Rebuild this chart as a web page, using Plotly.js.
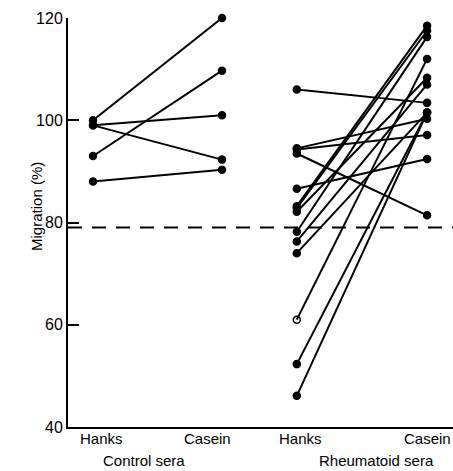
<!DOCTYPE html>
<html>
<head>
<meta charset="utf-8">
<script src="https://cdn.plot.ly/plotly-3.0.1.min.js"></script>
<style>html,body{margin:0;padding:0;background:#fff;}#chart{width:453px;height:471px;}</style>
</head>
<body>
<div id="chart"></div>
<script>
// ---- data ----
const yTickVals = [40, 60, 80, 100, 120];
const cutoff = 79;
const controlHanks  = [100, 99, 99, 93, 88];
const controlCasein = [120, 101, 92.3, 109.7, 90.3];
const rheumHanks  = [106, 94.5, 94.3, 93.5, 86.6, 83.2, 82.8, 82.1, 78.2, 76.3, 74, 61, 52.3, 46.1];
const rheumCasein = [103.4, 100.3, 97.1, 81.4, 92.4, 118.5, 117.5, 108.3, 116.3, 107, 101.5, 112, 101.5, 101.5];
const conditionLabels = ["Hanks", "Casein", "Hanks", "Casein"];
const groupLabels = ["Control sera", "Rheumatoid sera"];

// ---- layout helpers ----
const xCtlH = 0, xCtlC = 1, xRhH = 1.58, xRhC = 2.59;
const xRange = [-0.194, 2.791];

const traces = [];
function addPairs(h, c, x0, x1, openIdx) {
  for (let i = 0; i < h.length; i++) {
    traces.push({
      type: 'scatter', mode: 'lines+markers',
      x: [x0, x1], y: [h[i], c[i]],
      line: {color: '#000', width: 2},
      marker: {color: '#000', size: 7,
        symbol: (i === openIdx) ? ['circle-open', 'circle'] : 'circle',
        line: {color: '#000', width: 1.5}},
      cliponaxis: false, showlegend: false, hoverinfo: 'skip'
    });
  }
}
addPairs(controlHanks, controlCasein, xCtlH, xCtlC, -1);
addPairs(rheumHanks, rheumCasein, xRhH, xRhC, 11);

const L = 68, W = 453, plotW = W - L;
function px2paper(p) { return (p - L) / plotW; }
const labelCenters = [101, 207, 300, 427];
const groupCenters = [144, 376];
const font = {family: 'Liberation Sans, Arial, sans-serif', color: '#000'};

const annotations = [];
conditionLabels.forEach((t, i) => annotations.push({
  text: t, xref: 'paper', yref: 'paper', x: px2paper(labelCenters[i]), y: 0,
  xanchor: 'center', yanchor: 'middle', yshift: -11, showarrow: false,
  font: Object.assign({size: 15}, font)
}));
groupLabels.forEach((t, i) => annotations.push({
  text: t, xref: 'paper', yref: 'paper', x: px2paper(groupCenters[i]), y: 0,
  xanchor: 'center', yanchor: 'middle', yshift: -33, showarrow: false,
  font: Object.assign({size: 15}, font)
}));
annotations.push({
  text: 'Migration (%)', xref: 'paper', yref: 'paper', x: 0, y: 0.538,
  xanchor: 'center', yanchor: 'middle', xshift: -31, textangle: -90,
  showarrow: false, font: Object.assign({size: 15}, font)
});

const layout = {
  width: 453, height: 471,
  margin: {l: L, r: 0, t: 18, b: 44},
  paper_bgcolor: '#fff', plot_bgcolor: '#fff',
  showlegend: false,
  xaxis: {range: xRange, showline: true, linewidth: 2, linecolor: '#000',
    showgrid: false, zeroline: false, ticks: '', showticklabels: false, fixedrange: true},
  yaxis: {range: [40, 120], tickvals: yTickVals, ticks: 'inside', ticklen: 11,
    tickwidth: 2, tickcolor: '#000', showline: true, linewidth: 2, linecolor: '#000',
    showgrid: false, zeroline: false, tickfont: Object.assign({size: 16}, font),
    fixedrange: true},
  shapes: [{type: 'line', xref: 'paper', yref: 'y', x0: 0, x1: 1, y0: cutoff, y1: cutoff,
    line: {color: '#000', width: 2, dash: '14px,10px'}}],
  annotations: annotations
};

Plotly.newPlot('chart', traces, layout, {staticPlot: true, displayModeBar: false});
</script>
</body>
</html>
